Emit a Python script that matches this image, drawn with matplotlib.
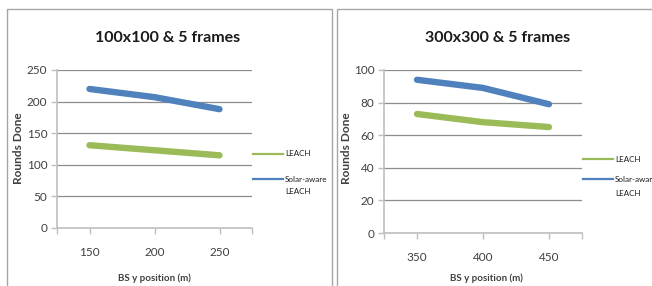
import matplotlib
matplotlib.use("Agg")
import matplotlib.pyplot as plt
from matplotlib.patches import Rectangle
from matplotlib.lines import Line2D

plt.rcParams['font.family'] = ['Lato', 'DejaVu Sans']

# Data
left_title = "100x100 & 5 frames"
left_x = ["150", "200", "250"]
left_leach = [131, 123, 115]
left_solar = [220, 207, 188]
left_yticks = [0, 50, 100, 150, 200, 250]

right_title = "300x300 & 5 frames"
right_x = ["350", "400", "450"]
right_leach = [73, 68, 65]
right_solar = [94, 89, 79]
right_yticks = [0, 20, 40, 60, 80, 100]

series_names = ["LEACH", "Solar-aware", "LEACH"]
xlabel = "BS y position (m)"
ylabel = "Rounds Done"

GREEN = "#9BBB59"
BLUE = "#4F81BD"
GRID = "#8c8c8c"
AX = "#bfbfbf"
TXT = "#404040"

W, H = 652, 286
fig = plt.figure(figsize=(W / 100, H / 100), dpi=100)


def fx(px):
    return px / W


def fy(py):
    return 1 - py / H


# panel borders
fig.patches.append(Rectangle((fx(7), fy(300)), fx(332 - 7), fy(9) - fy(300),
                             transform=fig.transFigure, fill=False,
                             edgecolor="#a6a6a6", lw=1.0))
fig.patches.append(Rectangle((fx(337), fy(300)), fx(700 - 337), fy(9) - fy(300),
                             transform=fig.transFigure, fill=False,
                             edgecolor="#a6a6a6", lw=1.0))


def panel(x0, x1, ytop, ybot, cats, leach, solar, yticks, title, title_cx,
          xlabel_cx, xlabel_y, ylabel_x, leg_x, leg_y):
    ax = fig.add_axes([fx(x0), fy(ybot), fx(x1 - x0), fy(ytop) - fy(ybot)])
    idx = list(range(len(cats)))
    ax.plot(idx, leach, color=GREEN, lw=4.6, solid_capstyle="round",
            solid_joinstyle="round", zorder=3)
    ax.plot(idx, solar, color=BLUE, lw=4.6, solid_capstyle="round",
            solid_joinstyle="round", zorder=3)
    ax.set_xlim(-0.5, len(cats) - 0.5)
    ax.set_ylim(yticks[0], yticks[-1])
    ax.set_yticks(yticks)
    ax.set_xticks(idx)
    ax.set_xticklabels(cats)
    ax.set_xticks([-0.5, len(cats) - 0.5], minor=True)
    for s in ["top", "right"]:
        ax.spines[s].set_visible(False)
    for s in ["left", "bottom"]:
        ax.spines[s].set_color(AX)
        ax.spines[s].set_linewidth(1.2)
    ax.grid(axis="y", color=GRID, lw=0.9)
    ax.set_axisbelow(True)
    ax.tick_params(axis="both", which="both", color=AX, length=4, width=1.0,
                   labelsize=8.5, labelcolor=TXT)
    ax.tick_params(axis="x", pad=10)
    ax.tick_params(axis="y", pad=3)
    fig.text(fx(title_cx), fy(38), title, ha="center", va="center",
             fontsize=11.5, fontweight="bold", color="#1a1a1a")
    fig.text(fx(xlabel_cx), fy(xlabel_y), xlabel, ha="center",
             va="center", fontsize=7.0, fontweight="bold", color=TXT)
    fig.text(fx(ylabel_x), fy(148), ylabel, ha="center",
             va="center", rotation=90, fontsize=8.6, fontweight="bold",
             color=TXT)
    # legend (drawn by hand so the handle sits on the first text line)
    lx0, lx1 = leg_x, leg_x + 30
    y_green, y_blue, y_second = leg_y
    fig.add_artist(Line2D([fx(lx0), fx(lx1)], [fy(y_green)] * 2, color=GREEN,
                          lw=1.6, transform=fig.transFigure))
    fig.add_artist(Line2D([fx(lx0), fx(lx1)], [fy(y_blue)] * 2, color=BLUE,
                          lw=1.6, transform=fig.transFigure))
    for name, yy in zip(series_names, leg_y):
        fig.text(fx(lx1 + 2), fy(yy), name, ha="left", va="center",
                 fontsize=5.8, color="#1a1a1a")
    return ax


panel(57, 252, 70, 228, left_x, left_leach, left_solar, left_yticks,
      left_title, 168, 154, 278, 18, 253, (154, 179, 192))
panel(384, 582, 70, 233, right_x, right_leach, right_solar, right_yticks,
      right_title, 498, 486, 278, 347, 583, (159, 179, 193))

fig.savefig("out.png", dpi=100)
